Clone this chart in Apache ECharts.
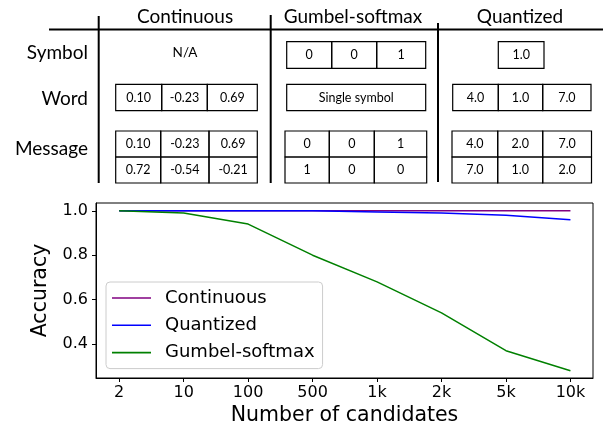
<!DOCTYPE html>
<html>
<head>
<meta charset="utf-8">
<script src="https://cdn.jsdelivr.net/npm/echarts@6/dist/echarts.min.js"></script>
<style>html,body{margin:0;padding:0;background:#fff}#c{width:603px;height:427px}</style>
</head>
<body>
<div id="c"></div>
<script>
// ---- chart data ----
const candidates = ['2', '10', '100', '500', '1k', '2k', '5k', '10k'];
const continuous = [1.0, 1.0, 1.0, 1.0, 1.0, 1.0, 1.0, 1.0];
const quantized = [1.0, 1.0, 1.0, 1.0, 0.995, 0.99, 0.98, 0.96];
const gumbel = [1.0, 0.99, 0.94, 0.80, 0.68, 0.54, 0.37, 0.28];
const yTicks = [0.4, 0.6, 0.8, 1.0];

// ---- table text ----
const tableCols = ['Continuous', 'Gumbel-softmax', 'Quantized'];
const tableRows = ['Symbol', 'Word', 'Message'];
const contSymbol = 'N/A';
const contWord = [['0.10', '-0.23', '0.69']];
const contMsg = [['0.10', '-0.23', '0.69'], ['0.72', '-0.54', '-0.21']];
const gumbelSymbol = [['0', '0', '1']];
const gumbelWord = [['Single symbol']];
const gumbelMsg = [['0', '0', '1'], ['1', '0', '0']];
const quantSymbol = [['1.0']];
const quantWord = [['4.0', '1.0', '7.0']];
const quantMsg = [['4.0', '2.0', '7.0'], ['7.0', '1.0', '2.0']];

const TF = 'Lato, "Open Sans", sans-serif';
const g = [];
function line(x1, y1, x2, y2, w) {
  g.push({type: 'line', shape: {x1, y1, x2, y2}, style: {stroke: '#000', lineWidth: w || 1}});
}
function text(t, x, y, size, align) {
  g.push({type: 'text', x, y, style: {text: t, fontFamily: TF, fontSize: size, fill: '#000', align: align || 'center', verticalAlign: 'middle'}});
}
function cells(edges, y0, h, rows) {
  rows.forEach((r, ri) => {
    const y = y0 + ri * h;
    r.forEach((t, ci) => {
      const x1 = edges[ci], x2 = edges[ci + 1];
      g.push({type: 'rect', shape: {x: x1, y, width: x2 - x1, height: h}, style: {fill: 'none', stroke: '#000', lineWidth: 1.2}});
      text(t, (x1 + x2) / 2, y + h / 2, 12.5);
    });
  });
}
// structure lines
line(49, 29.5, 603, 29.5, 2);
line(98.7, 16, 98.7, 183, 2);
line(270.7, 15, 270.7, 183, 2);
line(438, 23, 438, 182, 2);
// headers
text(tableCols[0], 185, 17, 19);
text(tableCols[1], 353, 17, 19);
text(tableCols[2], 520, 17, 19);
text(tableRows[0], 88, 53, 19, 'right');
text(tableRows[1], 88, 99, 19, 'right');
text(tableRows[2], 88, 149, 19, 'right');
// continuous
text(contSymbol, 185, 53, 13.5);
cells([115.7, 161.7, 207.3, 257.3], 84.3, 26.4, contWord);
cells([115.7, 160.7, 209, 257.3], 131, 26, contMsg);
// gumbel
cells([286.7, 331.7, 376.7, 425.7], 41.7, 26.6, gumbelSymbol);
cells([286.7, 425.7], 84.3, 26.4, gumbelWord);
cells([285, 329.3, 374.3, 426.7], 131, 26, gumbelMsg);
// quantized
cells([498.3, 544], 41.7, 26.6, quantSymbol);
cells([452.7, 498.3, 542.7, 591], 84.3, 26.4, quantWord);
cells([452, 497.7, 542.7, 591.5], 131, 26, quantMsg);

const CF = '"DejaVu Sans", sans-serif';
const chart = echarts.init(document.getElementById('c'));
const mk = (name, vals, color) => ({
  name, type: 'line', symbol: 'none', data: vals.map((v, i) => [i, v]),
  lineStyle: {color, width: 1.5}, itemStyle: {color}
});
chart.setOption({
  animation: false,
  graphic: g,
  grid: {left: 96, right: 10, top: 203, bottom: 49, show: true, borderColor: '#000', borderWidth: 1},
  legend: {
    orient: 'vertical', left: 106, top: 282, icon: 'rect',
    backgroundColor: 'rgba(255,255,255,0.8)', borderColor: '#cccccc', borderWidth: 1, borderRadius: 4,
    padding: [7, 8, 7, 6], itemWidth: 39, itemHeight: 1.6, itemGap: 9.3,
    textStyle: {fontFamily: CF, fontSize: 18, lineHeight: 18, color: '#000', padding: [0, 0, 0, 9]},
    data: ['Continuous', 'Quantized', 'Gumbel-softmax']
  },
  xAxis: {
    type: 'value', min: -0.36, max: 7.35,
    name: 'Number of candidates', nameLocation: 'middle', nameGap: 27,
    nameTextStyle: {fontFamily: CF, fontSize: 20.5, color: '#000'},
    axisLine: {show: true, onZero: false, lineStyle: {color: '#000'}},
    axisTick: {show: true, length: 4, customValues: candidates.map((c, i) => i), lineStyle: {color: '#000'}},
    axisLabel: {customValues: candidates.map((c, i) => i), formatter: v => candidates[Math.round(v)], fontFamily: CF, fontSize: 16, color: '#000', margin: 7},
    splitLine: {show: false}
  },
  yAxis: {
    type: 'value', min: 0.247, max: 1.035,
    name: 'Accuracy', nameLocation: 'middle', nameGap: 40,
    nameTextStyle: {fontFamily: CF, fontSize: 20.5, color: '#000'},
    axisLine: {show: true, onZero: false, lineStyle: {color: '#000'}},
    axisTick: {show: true, length: 4, customValues: yTicks, lineStyle: {color: '#000'}},
    axisLabel: {customValues: yTicks, formatter: v => v.toFixed(1), fontFamily: CF, fontSize: 16, color: '#000', margin: 8},
    splitLine: {show: false}
  },
  series: [
    mk('Continuous', continuous, '#800080'),
    mk('Quantized', quantized, '#0000ff'),
    mk('Gumbel-softmax', gumbel, '#008000')
  ]
});
</script>
</body>
</html>
